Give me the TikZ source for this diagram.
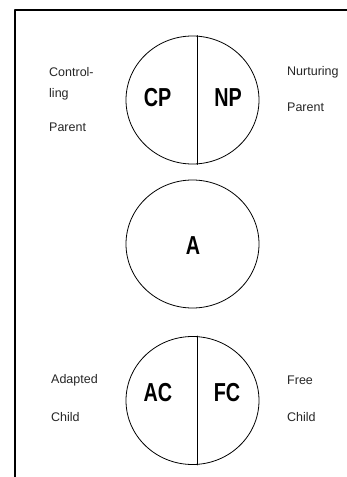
\documentclass[tikz,border=0pt]{standalone}
\usepackage{fontspec}
\setmainfont{Liberation Sans}
\usetikzlibrary{shapes.geometric}
\tikzset{
	egostate/.style={draw,line width=0.8pt,ellipse,minimum width=133pt,minimum height=128pt,inner sep=0pt},
	biglabel/.style={font=\fontsize{26}{28}\selectfont\bfseries},
	smalllabel/.style={anchor=west,inner sep=0pt,text=black!85,font=\fontsize{12.5}{14}\selectfont}
}
\newcommand{\narrow}[1]{\scalebox{0.76}[1]{#1}}

\begin{document}
\begin{tikzpicture}[line cap=round,line join=round,x=1pt,y=-1pt]
		\useasboundingbox (0,0) rectangle (347,477);
		\fill[white] (0,0) rectangle (347,477);
		\draw [line width=2pt,line cap=rect] (347,10) -- (15,10) -- (15,478);
		% circles
		\node[egostate] (parent) at (192.5,100) {};
		\node[egostate] (adult) at (192.5,244) {};
		\node[egostate] (child) at (192.5,400.5) {};
		\draw [line width=0.8pt] ([xshift=4.5pt]parent.north) -- ([xshift=4.5pt]parent.south);
		\draw [line width=0.8pt] ([xshift=4.5pt]child.north) -- ([xshift=4.5pt]child.south);
		% big labels
		\node[biglabel] (cp) at (157.5,98) {\narrow{CP}};
		\node[biglabel] (np) at (228,98) {\narrow{NP}};
		\node[biglabel] (a) at (193,246) {\narrow{A}};
		\node[biglabel] (ac) at (158,393) {\narrow{AC}};
		\node[biglabel] (fc) at (227,393) {\narrow{FC}};
		% side texts
		\node[smalllabel] (control) at (49,72.5) {Control-};
		\node[smalllabel] (ling) at (49,94) {ling};
		\node[smalllabel] (cparent) at (49,127.5) {Parent};
		\node[smalllabel] (nurturing) at (287,72.5) {Nurturing};
		\node[smalllabel] (nparent) at (287,107.5) {Parent};
		\node[smalllabel] (adapted) at (51,380.5) {Adapted};
		\node[smalllabel] (achild) at (51,417) {Child};
		\node[smalllabel] (free) at (287,380.5) {Free};
		\node[smalllabel] (fchild) at (287,417) {Child};
	\end{tikzpicture}
\end{document}
